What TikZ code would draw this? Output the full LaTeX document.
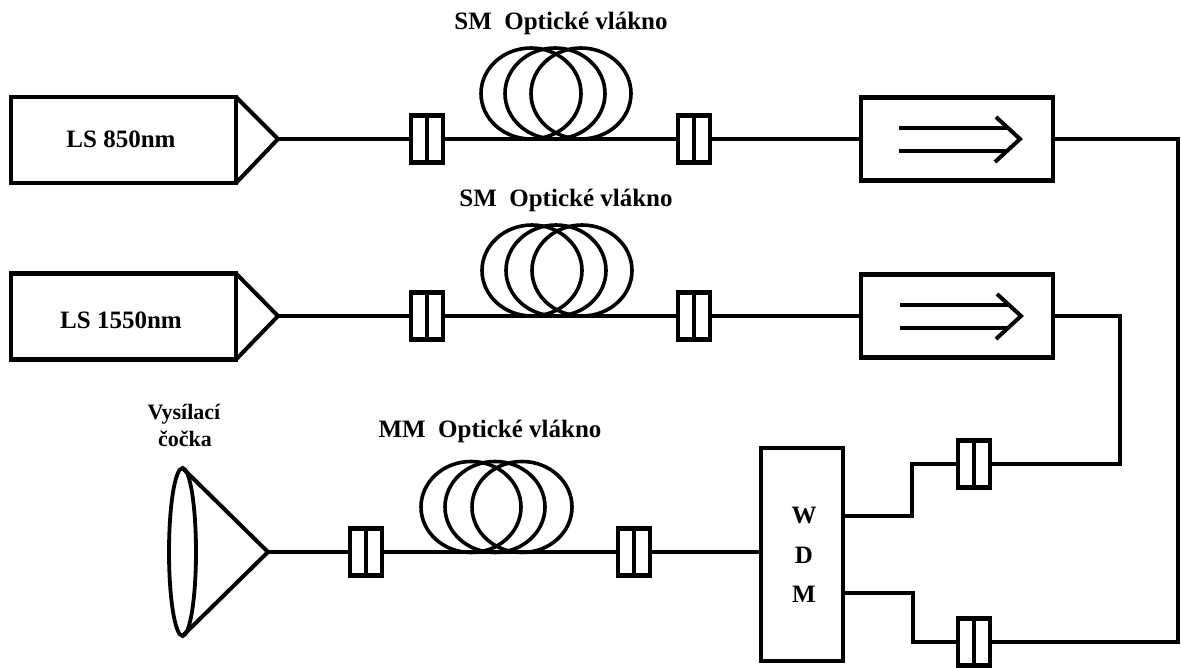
\documentclass[tikz,border=0pt]{standalone}
\usepackage{fontspec}
\setmainfont{Liberation Serif}
\usetikzlibrary{shapes.geometric}
\tikzset{
  every node/.style={outer sep=0pt,inner sep=0pt},
  wire/.style={line width=4pt,line join=miter},
  boxnode/.style={draw,line width=4.4pt,rectangle,fill=white},
  source/.style={boxnode,minimum width=225pt,minimum height=86pt},
  isolator/.style={boxnode,minimum width=192pt,minimum height=83pt},
  wdm/.style={boxnode,minimum width=82pt,minimum height=213pt},
  conn/.style={boxnode,minimum width=32pt,minimum height=47pt,
    path picture={\draw[line width=4pt] (path picture bounding box.north) -- (path picture bounding box.south);}},
  loop/.style={draw,ellipse,line width=3.6pt,minimum width=100pt,minimum height=91pt},
  lens/.style={draw,ellipse,line width=3.8pt,minimum width=27pt,minimum height=168pt},
  lbl/.style={font=\fontsize{25pt}{25pt}\selectfont\bfseries,text=black},
  smalllbl/.style={font=\fontsize{22pt}{22pt}\selectfont\bfseries,text=black},
  tip/.style={line width=4pt,line cap=butt}
}
\begin{document}
\begin{tikzpicture}[x=1pt,y=-1pt]
\useasboundingbox (0,0) rectangle (1181,668);
% fibre coils
\foreach \n/\cx/\cy in {a1/531/93.5,a2/555/93.5,a3/581/93.5,b1/532/270.5,b2/556/270.5,b3/582/270.5,c1/471/507,c2/495/507,c3/522/507}{
  \node[loop] (\n) at (\cx,\cy) {};
}
% sources
\node[source] (ls1) at (123.5,140) {};
\node[lbl] (ls1t) at (121,139) {LS 850nm};
\node[source] (ls2) at (123.5,316.5) {};
\node[lbl] (ls2t) at (121,320) {LS 1550nm};
\coordinate (ap1) at (278,139);
\coordinate (ap2) at (278,316);
\draw[wire] (ls1.north east) -- (ap1) -- (ls1.south east);
\draw[wire] (ls2.north east) -- (ap2) -- (ls2.south east);
% connectors
\node[conn] (k1) at (427,139) {};
\node[conn] (k2) at (694,139) {};
\node[conn] (k3) at (427,316) {};
\node[conn] (k4) at (694,316) {};
\node[conn] (k5) at (366,552) {};
\node[conn] (k6) at (634,552) {};
\node[conn] (k7) at (974,464) {};
\node[conn] (k8) at (974,642) {};
% isolators
\node[isolator] (i1) at (957,139) {};
\node[isolator] (i2) at (957,316) {};
\coordinate (h1) at (1020,139);
\coordinate (h2) at (1021,316);
\draw[tip] (899,128) -- (1008,128);
\draw[tip] (899,151) -- (1008,151);
\draw[tip] (996,117) -- (h1) -- (995,162);
\draw[tip] (900,305) -- (1009,305);
\draw[tip] (900,328) -- (1009,328);
\draw[tip] (997,294) -- (h2) -- (996,339);
% WDM
\node[wdm] (w) at (802,554.5) {};
\node[lbl] (wt1) at (804,516) {W};
\node[lbl] (wt2) at (804,555) {D};
\node[lbl] (wt3) at (804,594) {M};
% lens
\node[lens] (l) at (182.5,552) {};
\coordinate (ap3) at (268,552);
\draw[wire] (l.north) -- (ap3) -- (l.south);
% wiring
\draw[wire] (ap1) -- (k1);
\draw[wire] (k1) -- (k2);
\draw[wire] (k2) -- (i1);
\draw[wire] (ap2) -- (k3);
\draw[wire] (k3) -- (k4);
\draw[wire] (k4) -- (i2);
\draw[wire] (ap3) -- (k5);
\draw[wire] (k5) -- (k6);
\draw[wire] (k6) -- (w.west |- k6);
\coordinate (c1) at (1178,139);
\coordinate (c2) at (1178,642);
\coordinate (c3) at (1120,316);
\coordinate (c4) at (1120,464);
\coordinate (c5) at (912,516);
\coordinate (c6) at (912,464);
\coordinate (c7) at (913,593);
\coordinate (c8) at (913,642);
\draw[wire] (i1) -- (c1) -- (c2) -- (k8);
\draw[wire] (i2) -- (c3) -- (c4) -- (k7);
\draw[wire] (w.east |- c5) -- (c5) -- (c6) -- (k7);
\draw[wire] (w.east |- c7) -- (c7) -- (c8) -- (k8);
% labels
\node[lbl] (t1) at (561,23) {SM\hspace{0.25em} Optické vlákno};
\node[lbl] (t2) at (566,200) {SM\hspace{0.25em} Optické vlákno};
\node[lbl] (t3) at (490,431) {MM\hspace{0.25em} Optické vlákno};
\node[smalllbl] (t4) at (184,414) {Vysílací};
\node[smalllbl] (t5) at (185,439) {čočka};
\end{tikzpicture}
\end{document}
